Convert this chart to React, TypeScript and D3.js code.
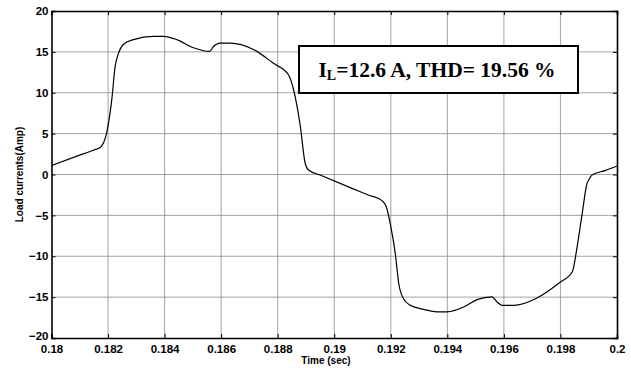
import React, { useRef, useEffect } from 'react';
import * as d3 from 'd3';

// traced waveform of the load current
const time = [
  0.18, 0.1809, 0.1815, 0.18172, 0.18195, 0.18213, 0.18225, 0.18237, 0.18254, 0.1829, 0.1836, 0.18396,
  0.18443, 0.18502, 0.18559, 0.18573, 0.18596, 0.18632, 0.18714, 0.18785, 0.18838, 0.18856,
  0.1888, 0.18897, 0.18909, 0.1895, 0.19063, 0.1912, 0.19169, 0.19184, 0.19198, 0.19216, 0.19228,
  0.19245, 0.19269, 0.19316, 0.19364, 0.19399, 0.19458, 0.19505, 0.19558, 0.19576, 0.19593,
  0.19635, 0.19717, 0.19794, 0.19842, 0.19859, 0.19877, 0.19894, 0.199, 0.19912, 0.1996, 0.2,
];
const current = [
  1.1, 2.25, 3.0, 3.3, 5.1, 9.1, 13.2, 14.85, 15.9, 16.5, 16.9, 16.9,
  16.5, 15.5, 15.05, 15.66, 16.08, 16.08, 15.3, 13.6, 12.2, 10.4,
  5.9, 1.4, 0.55, -0.06, -1.7, -2.5, -3.2, -3.95, -6.0, -9.7, -13.3,
  -15.2, -16.0, -16.5, -16.8, -16.8, -16.2, -15.3, -14.97, -15.6, -16.0,
  -16.0, -15.1, -13.3, -11.9, -8.85, -4.75, -1.1, -0.67, -0.06, 0.5, 1.04,
];
const xTicks = [0.18, 0.182, 0.184, 0.186, 0.188, 0.19, 0.192, 0.194, 0.196, 0.198, 0.2];
const yTicks = [-20, -15, -10, -5, 0, 5, 10, 15, 20];

const App = () => {
  const svgRef = useRef<SVGSVGElement>(null);

  useEffect(() => {
    const margin = { top: 11, right: 14, bottom: 30, left: 51.5 };
    const width = 631;
    const height = 368;

    const x = d3.scaleLinear().domain([0.18, 0.2]).range([margin.left, width - margin.right]);
    const y = d3.scaleLinear().domain([-20, 20]).range([height - margin.bottom, margin.top]);

    const svg = d3.select(svgRef.current);
    svg.selectAll('*').remove();

    svg.append('rect')
      .attr('width', width)
      .attr('height', height)
      .attr('fill', 'white');

    // grid
    const grid = svg.append('g').attr('stroke', '#8c8c8c').attr('stroke-width', 0.8);
    grid.selectAll('.gx')
      .data(xTicks.slice(1, -1))
      .join('line')
      .attr('x1', d => x(d)).attr('x2', d => x(d))
      .attr('y1', y(-20)).attr('y2', y(20));
    grid.selectAll('.gy')
      .data(yTicks.slice(1, -1))
      .join('line')
      .attr('x1', x(0.18)).attr('x2', x(0.2))
      .attr('y1', d => y(d)).attr('y2', d => y(d));

    // axes (ticks inward)
    const axisFont = 'Liberation Sans, Arial, sans-serif';
    const gx = svg.append('g')
      .attr('transform', `translate(0,${y(-20)})`)
      .call(d3.axisBottom(x).tickValues(xTicks).tickSize(-4).tickPadding(7)
        .tickFormat(d => d3.format('')(+(+d).toFixed(3))));
    const gxTop = svg.append('g')
      .attr('transform', `translate(0,${y(20)})`)
      .call(d3.axisTop(x).tickValues(xTicks).tickSize(-4).tickFormat(() => ''));
    const gy = svg.append('g')
      .attr('transform', `translate(${x(0.18)},0)`)
      .call(d3.axisLeft(y).tickValues(yTicks).tickSize(-4).tickPadding(3));
    const gyRight = svg.append('g')
      .attr('transform', `translate(${x(0.2)},0)`)
      .call(d3.axisRight(y).tickValues(yTicks).tickSize(-4).tickFormat(() => ''));

    [gx, gxTop, gy, gyRight].forEach(g => {
      g.select('.domain').attr('stroke', 'black').attr('stroke-width', 1.6);
      g.selectAll('.tick line').attr('stroke', 'black');
      g.selectAll('text')
        .attr('font-family', axisFont)
        .attr('font-weight', 'bold')
        .attr('font-size', 11.5)
        .attr('fill', 'black');
    });
    // lift the lowest y label a little, as in the original
    gy.selectAll<SVGTextElement, number>('text')
      .filter(d => d === -20)
      .attr('dy', '0.1em');

    // waveform
    const line = d3.line<number>()
      .x((_, i) => x(time[i]))
      .y(d => y(d))
      .curve(d3.curveMonotoneX);

    svg.append('path')
      .datum(current)
      .attr('fill', 'none')
      .attr('stroke', 'black')
      .attr('stroke-width', 1.2)
      .attr('d', line);

    // annotation box
    const box = svg.append('g');
    box.append('rect')
      .attr('x', 299)
      .attr('y', 46)
      .attr('width', 279)
      .attr('height', 47)
      .attr('fill', 'white')
      .attr('stroke', 'black')
      .attr('stroke-width', 2);
    const label = box.append('text')
      .attr('x', 437)
      .attr('y', 77)
      .attr('text-anchor', 'middle')
      .attr('font-family', 'Liberation Serif, Times New Roman, serif')
      .attr('font-weight', 'bold')
      .attr('font-size', 21.5);
    label.append('tspan').text('I');
    label.append('tspan').attr('font-size', 14).attr('dy', 3).text('L');
    label.append('tspan').attr('dy', -3).text('=12.6 A, THD= 19.56 %');

    // axis titles
    svg.append('text')
      .attr('x', 326)
      .attr('y', 364)
      .attr('text-anchor', 'middle')
      .attr('font-family', axisFont)
      .attr('font-weight', 'bold')
      .attr('font-size', 10)
      .text('Time (sec)');

    svg.append('text')
      .attr('transform', `translate(23,${y(0)}) rotate(-90)`)
      .attr('text-anchor', 'middle')
      .attr('font-family', axisFont)
      .attr('font-weight', 'bold')
      .attr('font-size', 10)
      .text('Load currents(Amp)');
  }, []);

  return (
    <svg
      ref={svgRef}
      width={631}
      height={368}
      style={{ position: 'absolute', left: 0, top: 0 }}
    ></svg>
  );
};

export default App;
